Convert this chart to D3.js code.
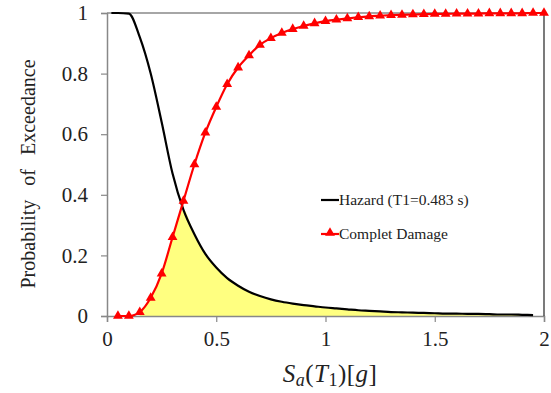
<!DOCTYPE html>
<html>
<head>
<meta charset="utf-8">
<script src="https://cdn.jsdelivr.net/npm/d3@7"></script>
<style>
  body { margin: 0; background: #fff; }
</style>
</head>
<body>
<svg id="chart" width="551" height="393"></svg>
<script>
// Sa values (g) for the fragility curve markers
const damageSa = [0.05, 0.1, 0.15, 0.2, 0.25, 0.3, 0.35, 0.4, 0.45, 0.5,
  0.55, 0.6, 0.65, 0.7, 0.75, 0.8, 0.85, 0.9, 0.95, 1.0,
  1.05, 1.1, 1.15, 1.2, 1.25, 1.3, 1.35, 1.4, 1.45, 1.5,
  1.55, 1.6, 1.65, 1.7, 1.75, 1.8, 1.85, 1.9, 1.95, 2.0];
const damageP = [0.0, 0.0, 0.013, 0.06, 0.14, 0.26, 0.38, 0.5, 0.605, 0.69,
  0.765, 0.82, 0.86, 0.895, 0.917, 0.934, 0.947, 0.957, 0.966, 0.973,
  0.978, 0.982, 0.986, 0.989, 0.991, 0.993, 0.994, 0.995, 0.996, 0.997,
  0.997, 0.998, 0.998, 0.998, 0.999, 0.999, 0.999, 0.999, 1.0, 1.0];

// hazard curve
const hazardSa = [0.02, 0.05, 0.1, 0.15, 0.2, 0.25, 0.3, 0.35, 0.4, 0.45, 0.5,
  0.55, 0.6, 0.65, 0.7, 0.75, 0.8, 0.85, 0.9, 0.95, 1.0,
  1.05, 1.1, 1.15, 1.2, 1.25, 1.3, 1.35, 1.4, 1.45, 1.5,
  1.55, 1.6, 1.65, 1.7, 1.75, 1.8, 1.85, 1.9, 1.95];
const hazardP = [1.0, 1.0, 0.998, 0.92, 0.8, 0.64, 0.47, 0.35, 0.27, 0.205, 0.16,
  0.125, 0.1, 0.08, 0.066, 0.055, 0.047, 0.041, 0.036, 0.032, 0.028,
  0.025, 0.022, 0.019, 0.017, 0.015, 0.013, 0.012, 0.011, 0.01, 0.009,
  0.008, 0.008, 0.007, 0.007, 0.006, 0.005, 0.005, 0.004, 0.003];

const xTicks = [0, 0.5, 1, 1.5, 2];
const yTicks = [0, 0.2, 0.4, 0.6, 0.8, 1];

const FONT = "'Liberation Serif'";
const svg = d3.select('#chart');
const m = { left: 107, right: 544, top: 13, bottom: 316 };

const x = d3.scaleLinear().domain([0, 2]).range([m.left, m.right]);
const y = d3.scaleLinear().domain([0, 1]).range([m.bottom, m.top]);

// shaded overlap area: min of the two curves where both exist
const hz = new Map(hazardSa.map((s, i) => [s.toFixed(2), hazardP[i]]));
const fillPts = damageSa
  .filter(s => s >= 0.15 && hz.has(s.toFixed(2)))
  .map(s => {
    const d = damageP[damageSa.indexOf(s)];
    return [s, Math.min(d, hz.get(s.toFixed(2)))];
  });

svg.append('path')
  .datum(fillPts)
  .attr('fill', '#ffff80')
  .attr('d', d3.area()
    .x(d => x(d[0]))
    .y0(y(0))
    .y1(d => y(d[1]))
    .curve(d3.curveMonotoneX));

// axes
const xAxis = svg.append('g')
  .attr('transform', `translate(0,${m.bottom})`)
  .call(d3.axisBottom(x).tickValues(xTicks).tickFormat(d3.format('')).tickSize(6).tickPadding(5));
const yAxis = svg.append('g')
  .attr('transform', `translate(${m.left},0)`)
  .call(d3.axisLeft(y).tickValues(yTicks).tickFormat(d3.format('')).tickSize(6).tickPadding(13));

[xAxis, yAxis].forEach(g => {
  g.select('.domain').attr('stroke', '#888').attr('stroke-width', 1.5);
  g.selectAll('.tick line').attr('stroke', '#888').attr('stroke-width', 1.2);
  g.selectAll('.tick text')
    .style('font-family', FONT)
    .style('font-size', '21px')
    .attr('fill', '#222');
});
xAxis.selectAll('.tick text').attr('dy', '0.9em');

// top and right frame
svg.append('line')
  .attr('x1', m.left).attr('x2', m.right)
  .attr('y1', m.top).attr('y2', m.top)
  .attr('stroke', '#888').attr('stroke-width', 1.5);
svg.append('line')
  .attr('x1', m.right).attr('x2', m.right)
  .attr('y1', m.top).attr('y2', m.bottom)
  .attr('stroke', '#222').attr('stroke-width', 1.2);

// hazard line
svg.append('path')
  .datum(hazardSa.map((s, i) => [s, hazardP[i]]))
  .attr('fill', 'none')
  .attr('stroke', '#000')
  .attr('stroke-width', 2.2)
  .attr('d', d3.line().x(d => x(d[0])).y(d => y(d[1])).curve(d3.curveMonotoneX));

// damage line + markers
const dmg = damageSa.map((s, i) => [s, damageP[i]]);
svg.append('path')
  .datum(dmg)
  .attr('fill', 'none')
  .attr('stroke', '#ff0000')
  .attr('stroke-width', 2.2)
  .attr('d', d3.line().x(d => x(d[0])).y(d => y(d[1])).curve(d3.curveMonotoneX));

const tri = d3.symbol().type(d3.symbolTriangle).size(42);
svg.selectAll('.mk')
  .data(dmg)
  .enter()
  .append('path')
  .attr('class', 'mk')
  .attr('transform', d => `translate(${x(d[0])},${y(d[1])})`)
  .attr('d', tri)
  .attr('fill', '#ff0000');

// legend
const lg = svg.append('g');
lg.append('line').attr('x1', 321).attr('x2', 339).attr('y1', 200).attr('y2', 200)
  .attr('stroke', '#000').attr('stroke-width', 2.2);
lg.append('text').attr('x', 339).attr('y', 205)
  .style('font-family', FONT).style('font-size', '15.5px').attr('fill', '#222')
  .text('Hazard (T1=0.483 s)');
lg.append('line').attr('x1', 321).attr('x2', 339).attr('y1', 234).attr('y2', 234)
  .attr('stroke', '#ff0000').attr('stroke-width', 2.2);
lg.append('path').attr('transform', 'translate(330,233)').attr('d', tri).attr('fill', '#ff0000');
lg.append('text').attr('x', 339).attr('y', 239)
  .style('font-family', FONT).style('font-size', '15.5px').attr('fill', '#222')
  .text('Complet Damage');

// axis titles
svg.append('text')
  .attr('transform', 'translate(35,174) rotate(-90)')
  .attr('text-anchor', 'middle')
  .style('font-family', FONT)
  .style('font-size', '20px')
  .style('word-spacing', '9px')
  .attr('fill', '#222')
  .text('Probability of Exceedance');

const xt = svg.append('text')
  .attr('x', 330).attr('y', 382)
  .attr('text-anchor', 'middle')
  .style('font-family', FONT)
  .style('font-size', '25px')
  .style('letter-spacing', '0.5px')
  .attr('fill', '#222');
xt.append('tspan').style('font-style', 'italic').text('S');
xt.append('tspan').style('font-style', 'italic').style('font-size', '18px').attr('dy', 4).text('a');
xt.append('tspan').attr('dy', -4).text('(');
xt.append('tspan').style('font-style', 'italic').text('T');
xt.append('tspan').style('font-size', '18px').attr('dy', 4).text('1');
xt.append('tspan').attr('dy', -4).text(')[');
xt.append('tspan').style('font-style', 'italic').text('g');
xt.append('tspan').text(']');
</script>
</body>
</html>
